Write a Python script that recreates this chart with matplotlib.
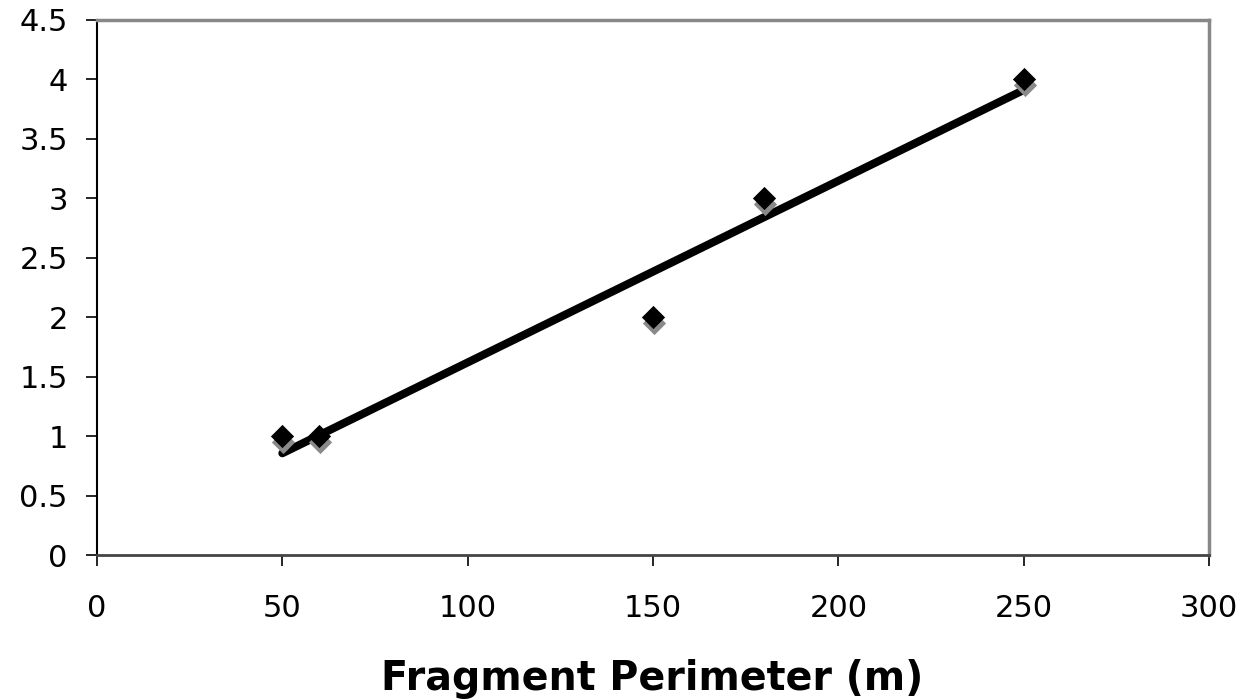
import numpy as np
import matplotlib.pyplot as plt
from matplotlib import transforms

perimeter = [50, 60, 150, 180, 250]
value = [1, 1, 2, 3, 4]
x_ticks = [0, 50, 100, 150, 200, 250, 300]
y_ticks = [0, 0.5, 1, 1.5, 2, 2.5, 3, 3.5, 4, 4.5]
y_labels = ['0', '0.5', '1', '1.5', '2', '2.5', '3', '3.5', '4', '4.5']

plt.rcParams['font.family'] = ['DejaVu Sans']

fig = plt.figure(figsize=(12.47, 6.99), dpi=100)
ax = fig.add_axes([0.0778, 0.206, 0.8917, 0.7654])

# linear trend line
slope, intercept = np.polyfit(perimeter, value, 1)
xfit = np.array([min(perimeter), max(perimeter)])
ax.plot(xfit, slope * xfit + intercept, color='black', lw=5.8, solid_capstyle='round', zorder=2)

# shadow markers
shadow = transforms.offset_copy(ax.transData, fig=fig, x=1, y=-6, units='dots')
ax.scatter(perimeter, value, marker='D', s=140, color='#8a8a8a', transform=shadow, zorder=3, linewidths=0)
ax.scatter(perimeter, value, marker='D', s=140, color='black', zorder=4, linewidths=0)

ax.set_xlim(0, 300)
ax.set_ylim(0, 4.5)
ax.set_xticks(x_ticks)
ax.set_yticks(y_ticks)
ax.set_xticklabels([str(t) for t in x_ticks])
ax.set_yticklabels(y_labels)
ax.tick_params(direction='out', length=8, width=1.2, labelsize=22, color='black')
ax.tick_params(axis='y', pad=13)
ax.tick_params(axis='x', pad=20)

for s in ['top', 'right']:
    ax.spines[s].set_color('#888888')
    ax.spines[s].set_linewidth(2.5)
ax.spines['left'].set_color('black')
ax.spines['left'].set_linewidth(1.5)
ax.spines['bottom'].set_color('#444444')
ax.spines['bottom'].set_linewidth(2)

fig.text(0.523, 1 - 690 / 699, 'Fragment Perimeter (m)', fontsize=28.5, fontweight='bold',
         ha='center', va='baseline')

fig.savefig('out.png', dpi=100)
